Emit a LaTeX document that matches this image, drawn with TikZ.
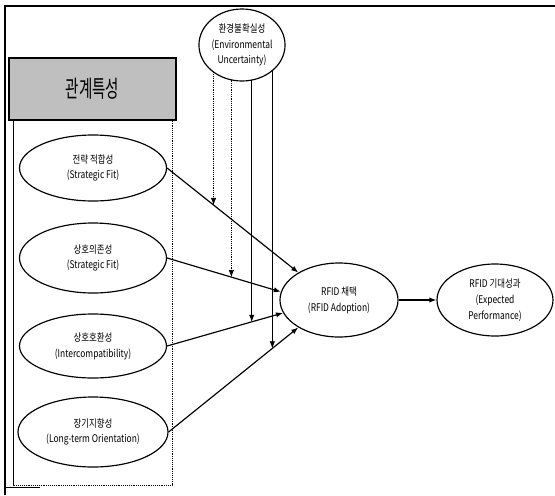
\documentclass[tikz,border=0pt]{standalone}
\usepackage{fontspec}
\setmainfont{Noto Sans CJK KR}[FakeStretch=0.8]
\newfontfamily\headfont{Noto Sans CJK KR}[FakeStretch=0.62]
\usetikzlibrary{positioning,calc,arrows.meta,shapes.geometric,backgrounds}
\tikzset{factor/.style={draw,ellipse,fill=white,line width=1pt,inner sep=0pt,align=center,font=\fontsize{9}{13.5}\selectfont}  }
\tikzset{headbox/.style={draw,line width=1.3pt,fill=black!25,minimum width=5.01cm,minimum height=1.86cm,font=\headfont\fontsize{20}{24}\selectfont}  }
\tikzset{path/.style={->,line width=1pt}  }
\tikzset{moder/.style={->,line width=0.55pt}  }
\tikzset{>={Latex[length=6pt,width=4.5pt]}}

\begin{document}
\begin{tikzpicture}[x=0.03cm,y=-0.03cm]
	\useasboundingbox (0,0) rectangle (555,495);
	% frame
	\draw[line width=1.2pt] (5,495) -- (5,6) -- (555,6);
	\draw[line width=0.8pt] (5,487) -- (40,487);
	\draw[densely dotted,line width=0.6pt] (13,119) rectangle (172,485);
	\draw[line width=0.6pt] (13,119) -- (13,485);

	\node[headbox] (head) at (92.5,89) {관계특성};

	\node[factor,minimum width=4.41cm,minimum height=1.98cm] (fit) at (93,168) {전략 적합성\\(Strategic Fit)};
	\node[factor,minimum width=4.41cm,minimum height=2.1cm] (dep) at (93,258) {상호의존성\\(Strategic Fit)};
	\node[factor,minimum width=4.41cm,minimum height=1.92cm] (compat) at (93,346) {상호호환성\\(Intercompatibility)};
	\node[factor,minimum width=4.5cm,minimum height=2.1cm] (orient) at (93,432) {장기지향성\\(Long-term Orientation)};

	\node[factor,minimum width=2.4cm,minimum height=2.16cm] (env) at (242,45) {환경불확실성\\(Environmental\\Uncertainty)};
	\node[factor,minimum width=3.54cm,minimum height=2.22cm] (adopt) at (339,300) {RFID 채택\\(RFID Adoption)};
	\node[factor,minimum width=3.48cm,minimum height=2.16cm] (perf) at (495,300) {RFID 기대성과\\(Expected\\Performance)};

	\draw[path] (fit.east) -- coordinate[pos=0.354] (m1) (adopt.146);
	\draw[path] (dep.east) -- coordinate[pos=0.565] (m2) (adopt.172);
	\draw[path] (compat.east) -- coordinate[pos=0.73] (m3) (adopt.193);
	\draw[path] (orient.east) -- coordinate[pos=0.8] (m4) (adopt.214);
	\draw[path] (adopt) -- (perf);

	% moderating effect of environmental uncertainty
	\begin{scope}[on background layer]
		\draw[moder,densely dotted] (m1 |- env.center) -- (m1);
		\draw[moder,densely dotted] (m2 |- env.center) -- (m2);
		\draw[moder] (m3 |- env.center) -- (m3);
		\draw[moder] (m4 |- env.center) -- (m4);
	\end{scope}
\end{tikzpicture}
\end{document}
